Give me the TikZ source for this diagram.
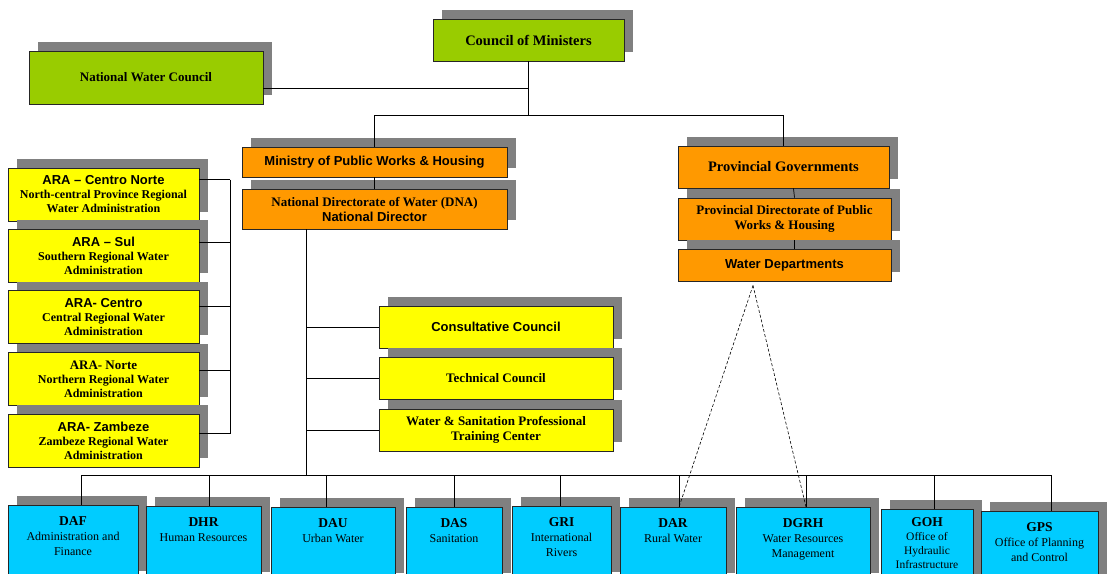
\documentclass[tikz,border=0pt]{standalone}
\usepackage{fontspec}
\setmainfont{Liberation Serif}
\setsansfont{Liberation Sans}
\usetikzlibrary{shadows}

\definecolor{boardgreen}{HTML}{99CC00}
\definecolor{minorange}{HTML}{FF9900}
\definecolor{arayellow}{HTML}{FFFF00}
\definecolor{deptcyan}{HTML}{00CCFF}
\definecolor{shadowgray}{HTML}{808080}

\newcommand{\hsans}{\sffamily\bfseries\fontsize{13}{15}\selectfont}
\newcommand{\hser}{\bfseries\fontsize{13}{15}\selectfont}
\newcommand{\hbig}{\bfseries\fontsize{14.5}{17}\selectfont}
\newcommand{\depttitle}{\bfseries\fontsize{13.5}{15}\selectfont}

\tikzset{
  unit/.style={draw=black!85, line width=0.9pt, align=center, inner sep=2pt,
    drop shadow={shadow xshift=9pt, shadow yshift=9pt, fill=shadowgray, opacity=1}},
  council/.style={unit, fill=boardgreen},
  ministry/.style={unit, fill=minorange},
  ara/.style={unit, fill=arayellow, minimum width=191pt, minimum height=53pt,
    font=\bfseries\fontsize{12}{14}\selectfont},
  advisory/.style={unit, fill=arayellow, minimum width=234pt, minimum height=42pt},
  dept/.style={unit, fill=deptcyan, anchor=north, minimum height=75pt},
  deptlbl/.style={anchor=north, yshift=-8pt, align=center, font=\fontsize{12}{15}\selectfont},
  link/.style={line width=0.7pt},
  dashlink/.style={line width=0.6pt, dash pattern=on 3pt off 2pt},
}

\begin{document}
\begin{tikzpicture}[x=1pt, y=-1pt]
  \useasboundingbox (0,0) rectangle (1108,573);
  \clip (0,0) rectangle (1108,573);

  % top level
  \node[council, minimum width=191pt, minimum height=42pt, font=\hbig] (com) at (528.5,40) {Council of Ministers};
  \node[council, minimum width=234pt, minimum height=53pt, font=\hser] (nwc) at (146,77.5) {National Water Council};

  % ministry branch
  \node[ministry, minimum width=265pt, minimum height=30pt, font=\hsans] (mpw) at (374.5,162) {Ministry of Public Works \& Housing};
  \node[ministry, minimum width=265pt, minimum height=40pt, font=\hser] (dna) at (374.5,209) {National Directorate of Water (DNA)\\{\hsans National Director}};

  % provincial branch
  \node[ministry, minimum width=211pt, minimum height=42pt, font=\hbig] (pg) at (783.5,167) {Provincial Governments};
  \node[ministry, minimum width=213pt, minimum height=42pt, font=\hser] (pd) at (784.5,219) {Provincial Directorate of Public\\Works \& Housing};
  \node[ministry, minimum width=213pt, minimum height=32pt, font=\hsans] (wd) at (784.5,265) {Water Departments};

  % regional administrations
  \node[ara] (ara1) at (103.5,194.5) {{\hsans ARA – Centro Norte}\\North-central Province Regional\\Water Administration};
  \node[ara] (ara2) at (103.5,255.5) {{\hsans ARA – Sul}\\Southern Regional Water\\Administration};
  \node[ara] (ara3) at (103.5,317) {{\hsans ARA- Centro}\\Central Regional Water\\Administration};
  \node[ara] (ara4) at (103.5,379) {{\hser ARA- Norte}\\Northern Regional Water\\Administration};
  \node[ara] (ara5) at (103.5,440.5) {{\hsans ARA- Zambeze}\\Zambeze Regional Water\\Administration};

  % councils under DNA
  \node[advisory, font=\hsans] (cc) at (496,327) {Consultative Council};
  \node[advisory, font=\hser] (tc) at (496,378) {Technical Council};
  \node[advisory, font=\hser] (wst) at (496,430) {Water \& Sanitation Professional\\Training Center};

  % departments
  \node[dept, minimum width=130pt, label={[deptlbl, name=daf-txt]north:{{\depttitle DAF}\\Administration and\\Finance}}] (daf) at (73,505) {};
  \node[dept, minimum width=115pt, label={[deptlbl, name=dhr-txt]north:{{\depttitle DHR}\\Human Resources}}] (dhr) at (203.5,506) {};
  \node[dept, minimum width=124pt, label={[deptlbl, name=dau-txt]north:{{\depttitle DAU}\\Urban Water}}] (dau) at (333,507) {};
  \node[dept, minimum width=96pt, label={[deptlbl, name=das-txt]north:{{\depttitle DAS}\\Sanitation}}] (das) at (454,507) {};
  \node[dept, minimum width=99pt, label={[deptlbl, name=gri-txt]north:{{\depttitle GRI}\\International\\Rivers}}] (gri) at (561.5,506) {};
  \node[dept, minimum width=106pt, label={[deptlbl, name=dar-txt]north:{{\depttitle DAR}\\Rural Water}}] (dar) at (673,507) {};
  \node[dept, minimum width=134pt, label={[deptlbl, name=dgrh-txt]north:{{\depttitle DGRH}\\Water Resources\\Management}}] (dgrh) at (803,507) {};
  \node[dept, minimum width=92pt, label={[deptlbl, yshift=3pt, font=\fontsize{11.5}{14}\selectfont, name=goh-txt]north:{{\depttitle GOH}\\Office of\\Hydraulic\\Infrastructure}}] (goh) at (927,509) {};
  \node[dept, minimum width=117pt, label={[deptlbl, name=gps-txt]north:{{\depttitle GPS}\\Office of Planning\\and Control}}] (gps) at (1039.5,511) {};

  % helper points
  \coordinate (hub) at ([yshift=-54pt]com.south);
  \coordinate (nwcout) at ([yshift=-10.5pt]nwc.east);
  \coordinate (tr) at (306,475);
  \coordinate (apex) at ([xshift=-31.5pt,yshift=-4pt]wd.south);
  \coordinate (d-daf) at ([xshift=8pt]daf.north);
  \coordinate (d-dhr) at ([xshift=5.5pt]dhr.north);
  \coordinate (d-dau) at ([xshift=-7pt]dau.north);
  \coordinate (d-das) at (das.north);
  \coordinate (d-gri) at ([xshift=-1.5pt]gri.north);
  \coordinate (d-dar) at ([xshift=6pt]dar.north);
  \coordinate (d-dgrh) at ([xshift=3pt]dgrh.north);
  \coordinate (d-goh) at ([xshift=7pt]goh.north);
  \coordinate (d-gps) at ([xshift=11.5pt]gps.north);

  % connectors
  \draw[link] (com) -- (hub);
  \draw[link] (nwcout) -- (nwcout -| hub);
  \draw[link] (mpw.north) |- (hub) -| (pg.north);
  \draw[link] (mpw) -- (dna);
  \draw[link] ([xshift=10pt]pg.south) -- ([xshift=10pt]pd.north);
  \draw[link] ([xshift=10pt]pd.south) -- ([xshift=10pt]wd.north);

  \foreach \n/\s in {1/15,2/13,3/11,4/9,5/7}
    \draw[link] ([yshift=\s pt]ara\n.east) -- ++(31,0);
  \draw[link] ([xshift=31pt,yshift=15pt]ara1.east) -- ([xshift=31pt,yshift=7pt]ara5.east);

  \draw[link] (dna.south -| tr) -- (tr);
  \foreach \u in {cc,tc,wst}
    \draw[link] (\u.west) -- (\u.west -| tr);

  \draw[link] (d-daf |- tr) -- (d-gps |- tr);
  \foreach \n in {daf,dhr,dau,das,gri,dar,dgrh,goh,gps}
    \draw[link] (d-\n) -- (d-\n |- tr);

  \draw[dashlink] (apex) -- (d-dar);
  \draw[dashlink] (apex) -- (d-dgrh);
\end{tikzpicture}
\end{document}
